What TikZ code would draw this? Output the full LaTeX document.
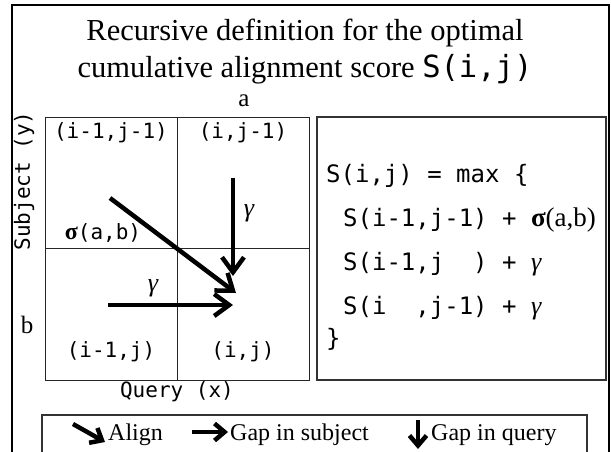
\documentclass[tikz,border=0pt]{standalone}
\usepackage{fontspec}
\setmainfont{Liberation Serif}
\setmonofont{DejaVu Sans Mono}
\usetikzlibrary{arrows.meta}
\tikzset{
  cellline/.style={line width=0.9pt, color=black!85},
  bigarrow/.style={line width=4.5pt, -{Straight Barb[length=15pt,width=22pt]}},
  keyarrow/.style={line width=4.5pt, -{Straight Barb[length=10pt,width=17pt]}},
  cell/.style={inner sep=0pt, font=\fontsize{21}{24}\ttfamily},
  rhs/.style={inner sep=0pt, anchor=base west, font=\fontsize{24}{28}\ttfamily},
  keytext/.style={inner sep=0pt, anchor=base west, font=\fontsize{24}{26}\selectfont},
  seq/.style={inner sep=0pt, font=\fontsize{25}{28}\selectfont},
}
\newcommand{\gap}{{\rmfamily\itshape\fontsize{26}{28}\selectfont γ}}

\begin{document}
\begin{tikzpicture}[x=1pt,y=-1pt]
    \useasboundingbox (0,0) rectangle (611,451); \clip (0,0) rectangle (611,451);
    \draw[line width=2.4pt] (12,5) rectangle (609,480);
    \node (titleA) [inner sep=0pt, anchor=base, font=\fontsize{30.5}{36}\selectfont] at (305,40) {Recursive definition for the optimal};
    \node (titleB) [inner sep=0pt, anchor=base, font=\fontsize{30.5}{36}\selectfont] at (305,77) {cumulative alignment score \texttt{S(i,j)}};

    \begin{scope}
        \draw[cellline] (45,117) rectangle (309,380); \draw[cellline] (177,117) -- (177,380); \draw[cellline] (45,248) -- (309,248);
        \node (ul) [cell] at (111,133) {(i-1,j-1)}; \node (ur) [cell] at (243,133) {(i,j-1)};
        \node (ll) [cell] at (111,352) {(i-1,j)}; \node (lr) [cell] at (243,352) {(i,j)};
        \node (query) [cell] at (177,392) {Query (x)}; \node (subject) [cell, rotate=90] at (24,181) {Subject (y)};
        \node (seqa) [seq] at (244,101) {a}; \node (seqb) [seq] at (27,325) {b};

        \coordinate (diagS) at (110,198); \coordinate (diagE) at (236,293);
        \coordinate (downS) at (233,178); \coordinate (downE) at (233,276);
        \coordinate (rightS) at (108,305); \coordinate (rightE) at (233,305);
        \draw[bigarrow] (diagS) -- (diagE); \draw[bigarrow] (downS) -- (downE); \draw[bigarrow] (rightS) -- (rightE);
        \node (sigma) [cell] at (103,233) {{\rmfamily\bfseries\fontsize{24}{26}\selectfont σ}(a,b)};
        \node (gapdown) [seq] at (249,213) {\gap}; \node (gapright) [seq] at (153,288) {\gap};
    \end{scope}

    \draw[line width=1.2pt, color=black!80] (317,117) rectangle (606,380);
    \node (eqmax) [rhs] at (326,182) {S(i,j) = max \{};
    \node (eqdiag) [rhs] at (343,226) {S(i-1,j-1) + {\rmfamily\fontsize{27}{28}\selectfont\textbf{σ}(a,b)}};
    \node (eqleft) [rhs] at (343,270) {S(i-1,j\ \ ) + \gap};
    \node (equp) [rhs] at (343,314) {S(i\ \ ,j-1) + \gap};
    \node (eqend) [rhs] at (326,346) {\}};

    \draw[line width=1.2pt, color=black!80] (42,415) rectangle (587,480);
    \coordinate (keydiagS) at (73,424); \coordinate (keydiagE) at (105,442);
    \coordinate (keyrightS) at (192,432); \coordinate (keyrightE) at (228,432);
    \coordinate (keydownS) at (418,420); \coordinate (keydownE) at (418,449);
    \draw[keyarrow] (keydiagS) -- (keydiagE); \draw[keyarrow] (keyrightS) -- (keyrightE); \draw[keyarrow] (keydownS) -- (keydownE);
    \node (keyalign) [keytext] at (108,440) {Align}; \node (keysubject) [keytext] at (230,440) {Gap in subject}; \node (keyquery) [keytext] at (431,440) {Gap in query};
\end{tikzpicture}
\end{document}
